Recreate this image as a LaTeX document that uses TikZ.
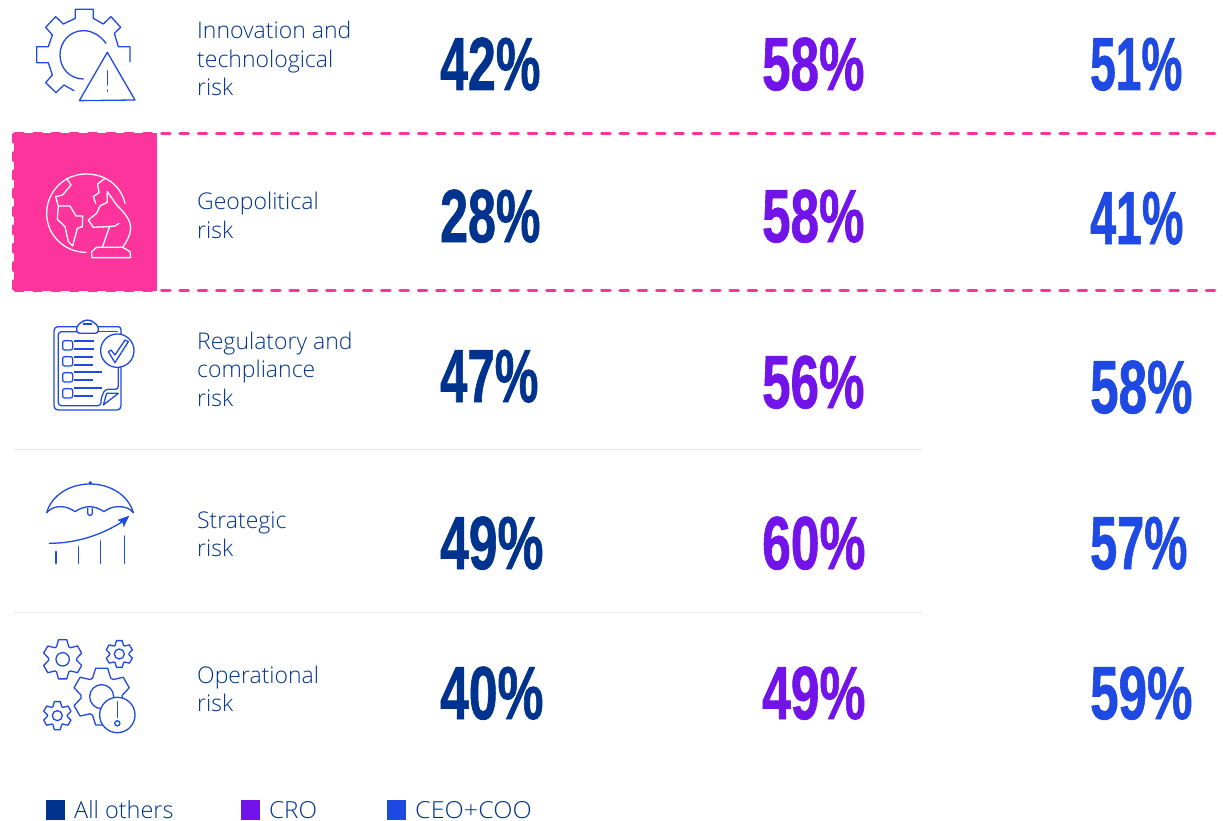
\documentclass[tikz,border=0pt]{standalone}
\usepackage{fontspec}
\setmainfont{Open Sans Light}
\newfontfamily\numfont{Liberation Sans Bold}[FakeBold=1.2]
\definecolor{navy}{HTML}{00338D}
\definecolor{purp}{HTML}{7213EA}
\definecolor{blu}{HTML}{1E49E2}
\definecolor{pink}{HTML}{FD349C}
\definecolor{rule}{HTML}{E6E6E6}
\tikzset{
  lbl/.style={anchor=base west,inner sep=0pt,text=navy,font=\fontsize{23}{23}\selectfont},
  pct/.style={anchor=base west,inner sep=0pt,font=\fontsize{75}{75}\selectfont\numfont},
  w/.style={xscale=#1*0.00668},
  legendtxt/.style={anchor=base west,inner sep=0pt,text depth=0pt,text=navy,font=\fontsize{23.5}{23.5}\selectfont},
  ico/.style={draw=blu,line width=1.3pt,line join=round,line cap=round},
  wico/.style={draw=white,line width=1.3pt,line join=round,line cap=round},
  pinkdash/.style={draw=pink,line width=3pt,line cap=round,dash pattern=on 8.5pt off 9.83pt},
  zoomed/.style={x=0.3333pt,y=-0.3333pt}
}
\newcommand{\gearshape}[7]{% cx cy router rbody halfOuterAngle halfBodyAngle options
  \draw[ico,#7] \foreach \k [count=\i] in {0,60,...,300} {
     \ifnum\i=1 ({#1+#4*cos(\k-90-#6)},{#2+#4*sin(\k-90-#6)}) \else -- ({#1+#4*cos(\k-90-#6)},{#2+#4*sin(\k-90-#6)}) \fi
     -- ({#1+#3*cos(\k-90-#5)},{#2+#3*sin(\k-90-#5)})
     -- ({#1+#3*cos(\k-90+#5)},{#2+#3*sin(\k-90+#5)})
     -- ({#1+#4*cos(\k-90+#6)},{#2+#4*sin(\k-90+#6)})
  } -- cycle;
}
\begin{document}
\begin{tikzpicture}[x=1pt,y=-1pt]
\useasboundingbox (0,0) rectangle (1223,821);
% pink band
\draw[pinkdash] (15,134) -- (1216,134);
\draw[pinkdash] (15,290) -- (1216,290);
\draw[pinkdash,line width=2.4pt] (13.5,134) -- (13.5,290);
\fill[pink] (14,133.5) rectangle (157,290.5);
% rules
\draw[rule,line width=1pt] (14,449) -- (922,449);
\draw[rule,line width=1pt] (14,612) -- (922,612);
% labels
\node[lbl] (l1a) at (197,39) {Innovation and};
\node[lbl] (l1b) at (197,68) {technological};
\node[lbl] (l1c) at (197,96) {risk};
\node[lbl] (l2a) at (197,210) {Geopolitical};
\node[lbl] (l2b) at (197,238) {risk};
\node[lbl] (l3a) at (197,349) {Regulatory and};
\node[lbl] (l3b) at (197,377) {compliance};
\node[lbl] (l3c) at (197,406) {risk};
\node[lbl] (l4a) at (197,528) {Strategic};
\node[lbl] (l4b) at (197,556) {risk};
\node[lbl] (l5a) at (197,683) {Operational};
\node[lbl] (l5b) at (197,711) {risk};
% numbers
\node[pct,text=navy,w=100] (n11) at (440,90) {42\%};
\node[pct,text=purp,w=102] (n12) at (762,90) {58\%};
\node[pct,text=blu,w=92] (n13) at (1090,90) {51\%};
\node[pct,text=navy,w=100] (n21) at (440,242) {28\%};
\node[pct,text=purp,w=102] (n22) at (762,242) {58\%};
\node[pct,text=blu,w=93] (n23) at (1090,244) {41\%};
\node[pct,text=navy,w=98] (n31) at (440,402) {47\%};
\node[pct,text=purp,w=102] (n32) at (762,408) {56\%};
\node[pct,text=blu,w=102] (n33) at (1090,413) {58\%};
\node[pct,text=navy,w=103] (n41) at (440,569) {49\%};
\node[pct,text=purp,w=103] (n42) at (762,569) {60\%};
\node[pct,text=blu,w=97] (n43) at (1090,569) {57\%};
\node[pct,text=navy,w=103] (n51) at (440,719) {40\%};
\node[pct,text=purp,w=103] (n52) at (762,719) {49\%};
\node[pct,text=blu,w=102] (n53) at (1090,719) {59\%};
% legend
\fill[navy] (46,800) rectangle (65,819.5);
\fill[purp] (241,800) rectangle (260,819.5);
\fill[blu] (387,800) rectangle (406,819.5);
\node[legendtxt] (k1) at (74,818) {All others};
\node[legendtxt,xscale=1.03] (k2) at (269,818) {CRO};
\node[legendtxt,xscale=1.07] (k3) at (415,818) {CEO+COO};
% icon 1
\begin{scope}[zoomed]
\draw[ico] (390,185) -- (390,140) -- (355,140) -- (343,100) -- (362,82) -- (333,50) -- (310,72) -- (280,55) -- (280,28) -- (226,28) -- (226,55) -- (190,72) -- (167,50) -- (137,82) -- (157,105) -- (145,140) -- (110,140) -- (110,188) -- (145,188) -- (157,225) -- (137,248) -- (168,278) -- (192,255) -- (222,272);
\draw[ico] (318,130) .. controls (300,105) and (275,92) .. (250,92) .. controls (210,92) and (180,125) .. (180,165) .. controls (180,205) and (210,237) .. (250,237);
\draw[ico] (322,157) -- (405,300) -- (238,302) -- cycle;
\draw[ico] (322,212) -- (322,255);
\draw[ico] (322,270) -- (322,274);
% icon 2 globe and knight
\draw[wico] (375,610) .. controls (362,555) and (315,522) .. (258,522) .. controls (193,522) and (140,575) .. (140,640) .. controls (140,705) and (193,757) .. (258,757);
\draw[wico] (200,535) -- (213,555) -- (188,585) -- (167,590) -- (175,618) -- (210,618) -- (228,648) -- (248,648) -- (247,680) -- (232,685) -- (218,738) -- (205,725) -- (195,680) -- (172,658) -- (175,618);
\draw[wico] (315,535) -- (293,552) -- (297,578) -- (280,590) -- (287,610);
\draw[wico] (322,575) -- (322,607) -- (300,618) -- (290,640) -- (265,660) -- (280,682) -- (325,680) -- (345,678) -- (357,670);
\draw[wico] (322,575) -- (350,615) .. controls (375,640) and (392,660) .. (392,685) .. controls (392,705) and (380,725) .. (368,742);
\draw[wico] (328,682) -- (307,742);
\draw[wico] (290,742) -- (368,742) -- (390,755) -- (392,773) -- (275,773) -- (275,755) -- cycle;
\end{scope}
% icon 3 clipboard
\begin{scope}[shift={(30,300)},zoomed]
\draw[ico,rounded corners=4pt] (140,80) -- (72,80) -- (72,330) -- (273,330) -- (273,100);
\draw[ico,rounded corners=3pt] (273,100) -- (273,80) -- (205,80);
\draw[ico,rounded corners=3pt] (140,78) -- (140,100) -- (205,100) -- (205,78) -- (190,66) -- (180,60) -- (165,60) -- (155,66) -- cycle;
\draw[ico] (160,72) -- (185,72);
\draw[ico,rounded corners=3pt] (140,95) -- (85,95) -- (85,317) -- (213,317) -- (213,295) -- (225,268) -- (265,268) -- (265,200);
\draw[ico] (205,95) -- (262,95);
\draw[ico] (220,315) -- (265,280) -- (230,280) -- cycle;
\draw[ico,fill=white] (262,152) circle [radius=16.7pt];
\draw[ico] (235,155) -- (255,188) -- (295,125) -- (285,120) -- (255,165) -- (243,150) -- cycle;
\foreach \yy in {122,170,218,266}
  \draw[ico,rounded corners=2pt] (98,\yy) rectangle (128,\yy+28);
\foreach \xa/\ya in {192/124,192/147,188/170,188/194,217/217,188/241,217/264,188/288}
  \draw[blu,line width=2pt] (133,\ya) -- (\xa,\ya);
% icon 4 umbrella
\draw[ico] (50,638) .. controls (65,585) and (120,552) .. (180,552) .. controls (240,552) and (295,585) .. (310,638);
\draw[ico] (50,638) .. controls (65,622) and (80,620) .. (93,620) .. controls (110,620) and (125,628) .. (135,635) .. controls (150,625) and (165,620) .. (180,620) .. controls (195,620) and (212,628) .. (222,635) .. controls (235,625) and (250,620) .. (265,620) .. controls (285,620) and (300,625) .. (310,638);
\draw[ico] (173,625) -- (173,640) .. controls (173,648) and (187,648) .. (187,640) -- (187,625);
\draw[ico] (181,549) circle [radius=1.2pt];
\draw[ico] (58,730) .. controls (130,730) and (210,710) .. (285,660);
\fill[blu] (298,647) -- (262,660) -- (278,668) -- (281,682) -- cycle;
\foreach \xx/\yy in {78/755,145/740,212/723,283/708}
  \draw[ico] (\xx,\yy) -- (\xx,790);
\end{scope}
% icon 5 gears
\begin{scope}[shift={(30,620)},zoomed]
\gearshape{98}{118}{60}{42}{12}{26}{}
\draw[ico] (98,118) circle [radius=6.7pt];
\gearshape{268}{102}{41}{29}{12}{26}{}
\draw[ico] (268,102) circle [radius=5pt];
\gearshape{82}{287}{43}{30}{12}{26}{}
\draw[ico] (82,287) circle [radius=5pt];
\gearshape{215}{230}{87}{62}{12}{26}{}
\draw[ico] (215,230) circle [radius=12pt];
\draw[ico,fill=white] (262,285) circle [radius=17.7pt];
\draw[ico] (262,245) -- (262,292);
\draw[ico] (262,310) circle [radius=2.6pt];
\end{scope}
\end{tikzpicture}
\end{document}
